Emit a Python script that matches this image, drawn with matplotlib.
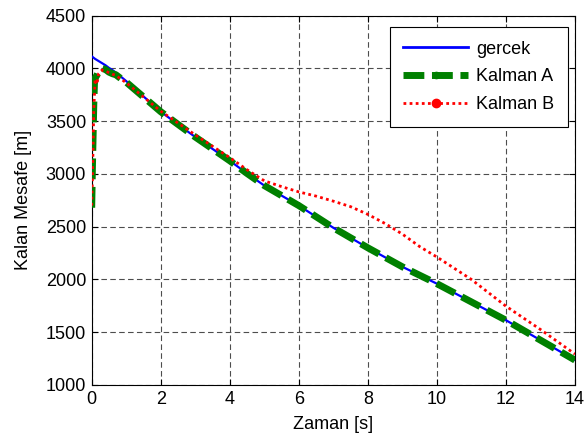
import matplotlib
matplotlib.use('Agg')
import matplotlib.pyplot as plt
from matplotlib.lines import Line2D

plt.rcParams['font.family'] = ['Liberation Sans', 'DejaVu Sans']

# zaman ekseni [s]
t = [0, 0.02, 0.04, 0.06, 0.08, 0.1, 0.15, 0.2, 0.3, 0.4, 0.5, 0.6, 0.7, 0.8,
     1, 2, 3, 4, 4.5, 5, 5.5, 6, 6.5, 7, 7.5, 8, 8.5, 9, 9.5, 10, 11, 12, 13, 14]

gercek = [4115, 4110, 4105, 4100, 4095, 4090, 4080, 4070, 4050, 4030, 4005, 3985,
          3960, 3935, 3880, 3590, 3350, 3125, 3005, 2890, 2795, 2700, 2595, 2490,
          2395, 2300, 2210, 2120, 2040, 1960, 1787, 1614, 1425, 1236]

kalman_a = [2680, 3050, 3350, 3650, 3860, 3910, 3935, 3975, 4000, 3990, 3965, 3950,
            3940, 3915, 3870, 3590, 3350, 3125, 3005, 2890, 2795, 2700, 2595, 2490,
            2395, 2300, 2210, 2120, 2040, 1960, 1787, 1614, 1425, 1236]

kalman_b = [2700, 2950, 3250, 3600, 3750, 3900, 3850, 3950, 3985, 3975, 3960, 3945,
            3935, 3910, 3865, 3595, 3370, 3155, 3040, 2935, 2880, 2830, 2790, 2742,
            2690, 2617, 2530, 2430, 2312, 2213, 2000, 1747, 1526, 1293]

fig = plt.figure(figsize=(5.87, 4.44), dpi=100)
ax = fig.add_axes([0.1562, 0.1329, 0.8233, 0.8318])

ax.plot(t, gercek, color='blue', lw=1.6, zorder=3)
ax.plot(t, kalman_a, color='#008000', lw=5, ls=(0, (3, 1.1)), zorder=4)
ax.plot(t, kalman_b, color='red', lw=2, ls=(0, (1, 1.2)), zorder=5)

ax.set_xlim(0, 14)
ax.set_ylim(1000, 4500)
ax.set_xticks(range(0, 15, 2))
ax.set_yticks(range(1000, 4501, 500))
ax.tick_params(direction='in', top=True, right=True, labelsize=13, length=4, pad=4)
ax.grid(True, color='0.3', ls=(0, (5, 3)), lw=0.8)
for s in ax.spines.values():
    s.set_linewidth(0.8)

ax.set_xlabel('Zaman [s]', fontsize=13, labelpad=6)
ax.set_ylabel('Kalan Mesafe [m]', fontsize=13, labelpad=10)

handles = [
    Line2D([], [], color='blue', lw=2),
    Line2D([], [], color='#008000', lw=5, ls=(0, (3, 1.1)), marker='.', ms=9),
    Line2D([], [], color='red', lw=2, ls=(0, (1, 1.2)), marker='.', ms=12),
]
leg = ax.legend(handles, ['gercek', 'Kalman A', 'Kalman B'], loc='upper right',
                fontsize=13, fancybox=False, edgecolor='black', framealpha=1,
                handlelength=3.6, handletextpad=0.45, numpoints=1,
                borderpad=0.75, labelspacing=0.6, borderaxespad=0,
                bbox_to_anchor=(0.9855, 0.969))
leg.get_frame().set_linewidth(0.8)

fig.savefig('out.png', dpi=100)
